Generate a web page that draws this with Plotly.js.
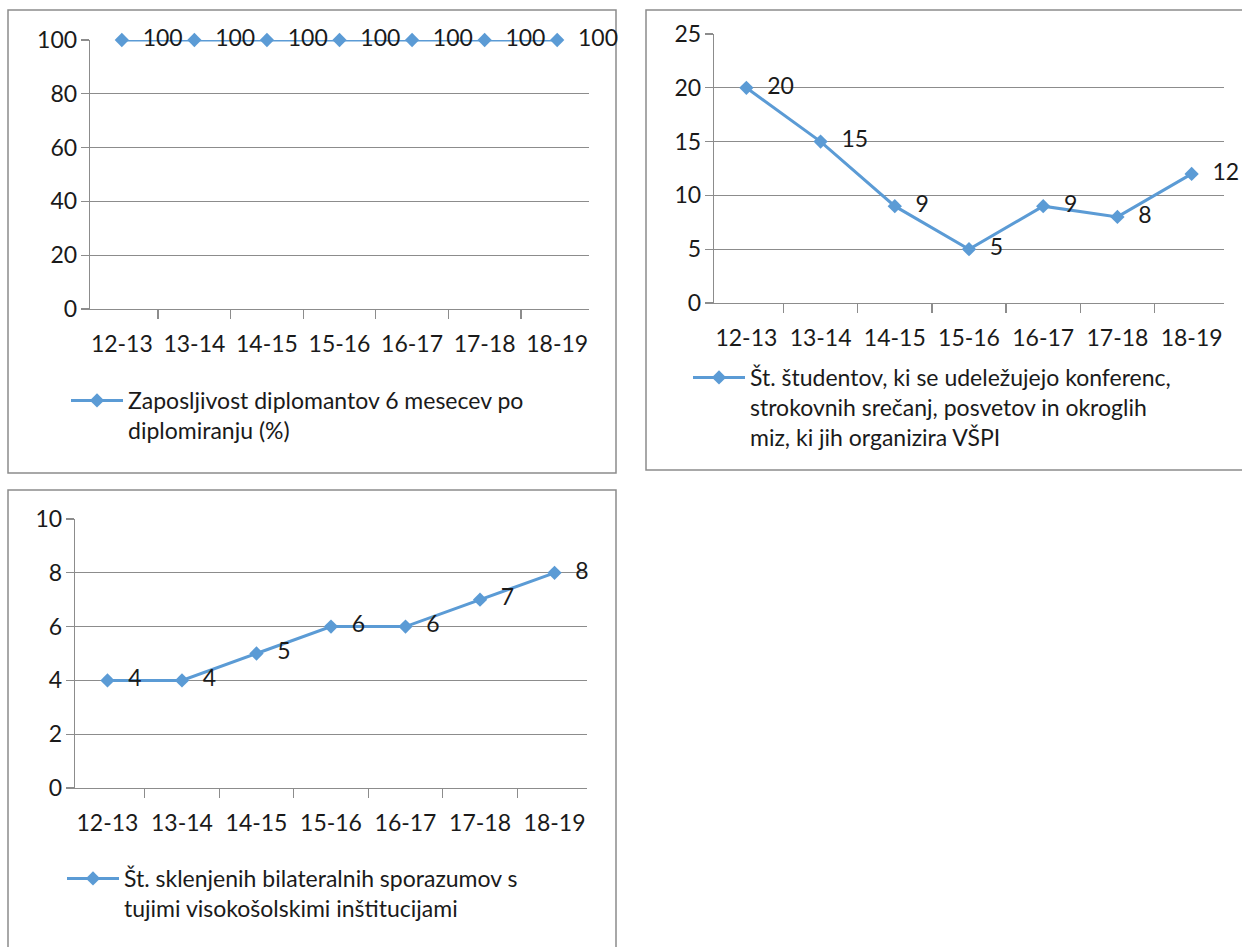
<!DOCTYPE html>
<html>
<head>
<meta charset="utf-8">
<script src="https://cdn.plot.ly/plotly-3.0.1.min.js"></script>
<style>
html,body{margin:0;padding:0;background:#fff;}
#chart{width:1242px;height:947px;}
</style>
</head>
<body>
<div id="chart"></div>
<script>
// ---- data ----
const years = ["12-13", "13-14", "14-15", "15-16", "16-17", "17-18", "18-19"];
const employability = [100, 100, 100, 100, 100, 100, 100];
const conferenceStudents = [20, 15, 9, 5, 9, 8, 12];
const bilateralAgreements = [4, 4, 5, 6, 6, 7, 8];
const name1 = "Zaposljivost diplomantov 6 mesecev po<br>diplomiranju (%)";
const name2 = "Št. študentov, ki se udeležujejo konferenc,<br>strokovnih srečanj, posvetov in okroglih<br>miz, ki jih organizira VŠPI";
const name3 = "Št. sklenjenih bilateralnih sporazumov s<br>tujimi visokošolskimi inštitucijami";

// ---- style ----
const W = 1242, H = 947;
const FONT = "Lato, 'Open Sans', sans-serif";
const FS = 23;
const TXT = "#1a1a1a";
const BLUE = "#5b9bd5";
const GRID = "#8c8c8c";
const px = v => v / W;
const py = v => 1 - v / H;

function trace(y, xa, ya, lg, name) {
  return {
    type: "scatter", mode: "lines+markers+text",
    x: years, y: y, xaxis: xa, yaxis: ya, legend: lg, name: name,
    texttemplate: "\u2002\u200a%{y}", textposition: "middle right",
    textfont: {family: FONT, size: FS, color: TXT},
    cliponaxis: false,
    line: {color: BLUE, width: 3},
    marker: {symbol: "diamond", size: 11, color: BLUE},
    hoverinfo: "x+y"
  };
}

function xax(domain, anchor) {
  return {
    domain: domain, anchor: anchor, type: "category",
    tickson: "boundaries", ticks: "outside", ticklen: 9, tickcolor: GRID, tickwidth: 1.3,
    showline: true, linecolor: GRID, linewidth: 1.3,
    showgrid: false, zeroline: false, fixedrange: true,
    tickfont: {family: FONT, size: FS, color: TXT}, ticklabelstandoff: 14
  };
}
function yax(domain, anchor, range, dtick) {
  return {
    domain: domain, anchor: anchor, range: range, dtick: dtick,
    ticks: "outside", ticklen: 8, tickcolor: GRID, tickwidth: 1.3,
    showline: true, linecolor: GRID, linewidth: 1.3,
    showgrid: true, gridcolor: GRID, gridwidth: 1.3, zeroline: false, fixedrange: true,
    tickfont: {family: FONT, size: FS, color: TXT}, ticklabelstandoff: -1
  };
}
function leg(x, y) {
  return {
    x: x, y: y, xanchor: "left", yanchor: "top", valign: "top",
    font: {family: FONT, size: FS, color: TXT}, itemwidth: 52,
    bgcolor: "rgba(0,0,0,0)", borderwidth: 0, itemclick: false, itemdoubleclick: false
  };
}
function border(x0, y0, x1, y1) {
  return {type: "rect", xref: "paper", yref: "paper",
    x0: px(x0), x1: px(x1), y0: py(y1), y1: py(y0),
    line: {color: GRID, width: 1.5}, fillcolor: "rgba(0,0,0,0)", layer: "below"};
}

const data = [
  trace(employability, "x", "y", "legend", name1),
  trace(conferenceStudents, "x2", "y2", "legend2", name2),
  trace(bilateralAgreements, "x3", "y3", "legend3", name3)
];

const layout = {
  width: W, height: H, margin: {l: 0, r: 0, t: 0, b: 0},
  paper_bgcolor: "#fff", plot_bgcolor: "rgba(0,0,0,0)",
  showlegend: true,
  xaxis: xax([px(90), px(589)], "y"),
  yaxis: yax([py(309), py(40)], "x", [0, 100], 20),
  xaxis2: xax([px(714), px(1224)], "y2"),
  yaxis2: yax([py(303), py(34)], "x2", [0, 25], 5),
  xaxis3: xax([px(75), px(587)], "y3"),
  yaxis3: yax([py(788), py(519)], "x3", [0, 10], 2),
  legend: leg(px(66), py(379)),
  legend2: leg(px(688), py(356)),
  legend3: leg(px(62), py(857)),
  shapes: [
    border(8, 10, 616, 473),
    border(646, 10, 1250, 470),
    border(8, 490, 616, 960)
  ]
};

Plotly.newPlot("chart", data, layout, {displayModeBar: false, staticPlot: true});
</script>
</body>
</html>
